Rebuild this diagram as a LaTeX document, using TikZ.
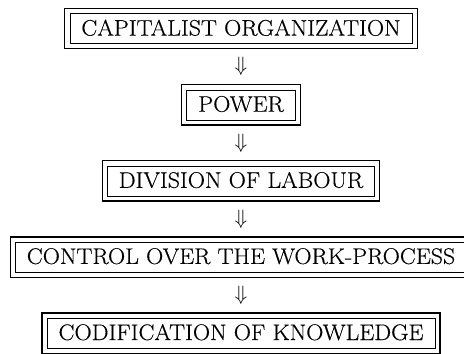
\documentclass[tikz,border=0pt]{standalone}
\usepackage{fontspec}
\setmainfont{Latin Modern Roman}[FakeStretch=1.06,FakeBold=0.4]
\usetikzlibrary{calc}
\begin{document}
\begin{tikzpicture}[x=1pt,y=1pt,
  box/.style={draw, line width=0.6pt, inner xsep=11.5pt, inner ysep=6.5pt,
    text height=15.4pt, text depth=1.6pt, font=\fontsize{22.5}{27}\selectfont},
  outerframe/.style={line width=1.2pt},
  arr/.style={inner sep=0pt, font=\fontsize{22.5}{27}\selectfont}]
\useasboundingbox (0,0) rectangle (464,-354);
\node[box] (b1) at (241,-28.7) {CAPITALIST ORGANIZATION};
\node[box] (b2) at (241,-104.8) {POWER};
\node[box] (b3) at (241,-180.9) {DIVISION OF LABOUR};
\node[box] (b4) at (241,-257.0) {CONTROL OVER THE WORK-PROCESS};
\node[box] (b5) at (241,-333.1) {CODIFICATION OF KNOWLEDGE};
\foreach \n in {b1,b2,b3,b4,b5}
  \draw[outerframe] ([shift={(-4.8,-4.8)}]\n.south west) rectangle ([shift={(4.8,4.8)}]\n.north east);
\node[arr] (a1) at ($(b1.south)!0.5!(b2.north)$) {$\Downarrow$};
\node[arr] (a2) at ($(b2.south)!0.5!(b3.north)$) {$\Downarrow$};
\node[arr] (a3) at ($(b3.south)!0.5!(b4.north)$) {$\Downarrow$};
\node[arr] (a4) at ($(b4.south)!0.5!(b5.north)$) {$\Downarrow$};
\end{tikzpicture}
\end{document}
